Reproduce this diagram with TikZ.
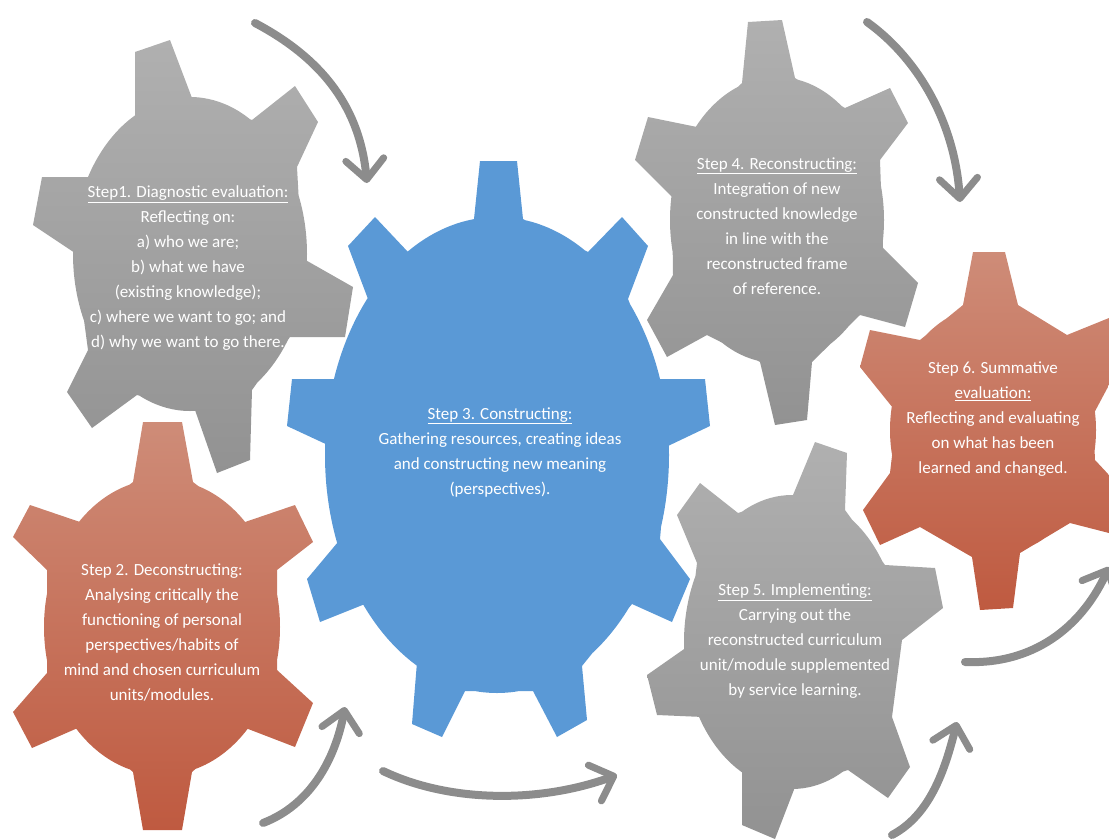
\documentclass[tikz,border=0pt]{standalone}
\usepackage{fontspec}
\setmainfont{Carlito}
\usetikzlibrary{arrows.meta}
\tikzset{
  greygear/.style={top color=gearGreyTop,bottom color=gearGreyBot,draw=none},
  redgear/.style={top color=gearRedTop,bottom color=gearRedBot,draw=none},
  bluegear/.style={fill=gearBlue,draw=none},
  label/.style={text=white,align=center,inner sep=0pt,font=\fontsize{17}{25}\selectfont},
  flow/.style={draw=arrowGrey,line width=8pt,line cap=round,-{Straight Barb[length=20pt,width=38pt,line width=7pt,round]}}
}
\definecolor{gearGreyTop}{HTML}{B0B0B0}
\definecolor{gearGreyBot}{HTML}{929292}
\definecolor{gearRedTop}{HTML}{CE8C78}
\definecolor{gearRedBot}{HTML}{BF5A40}
\definecolor{gearBlue}{HTML}{5A99D6}
\definecolor{arrowGrey}{HTML}{8C8C8C}
\begin{document}
\begin{tikzpicture}[x=1pt,y=-1pt]
\useasboundingbox (0,0) rectangle (1109,839);
% gear 1
\path[greygear] (135,123) -- (135,52) -- (170,40) -- (192,98) -- (252,120) -- (295,86) -- (318,122) -- (297,167) -- (302,258) -- (353,287) -- (345,337) -- (290,337) -- (252,390) -- (250,460) -- (217,473) -- (195,410) -- (137,395) -- (92,428) -- (67,392) -- (88,350) -- (75,253) -- (33,225) -- (42,177) -- (93,177) -- cycle (190,254) ellipse (117 and 157);
% gear 4
\path[greygear] (742,83) -- (748,22) -- (782,20) -- (795,78) -- (845,108) -- (890,88) -- (908,123) -- (880,160) -- (883,248) -- (918,283) -- (905,327) -- (860,315) -- (812,362) -- (807,420) -- (775,425) -- (760,362) -- (707,335) -- (667,357) -- (647,320) -- (673,275) -- (672,197) -- (635,160) -- (648,117) -- (697,127) -- cycle (777,220) ellipse (107 and 143);
% gear 3
\path[bluegear] (474,219) -- (480,161) -- (517,161) -- (523,219) -- (588,252) -- (622,217) -- (648,246) -- (628,299) -- (660,379) -- (705,379) -- (710,426) -- (668,446) -- (660,539) -- (690,579) -- (672,622) -- (632,604) -- (582,666) -- (587,720) -- (557,737) -- (533,691) -- (465,691) -- (442,737) -- (412,724) -- (417,662) -- (365,604) -- (320,622) -- (307,579) -- (338,542) -- (330,446) -- (287,426) -- (292,379) -- (337,379) -- (368,299) -- (348,246) -- (375,217) -- (408,252) -- cycle (497,455) ellipse (172 and 238);
% gear 6
\path[redgear] (963,305) -- (973,252) -- (1005,252) -- (1018,305) -- (1067,335) -- (1109,318) -- (1109,385) -- (1093,415) -- (1095,460) -- (1109,475) -- (1109,533) -- (1070,523) -- (1020,553) -- (1013,608) -- (980,610) -- (972,557) -- (920,527) -- (880,545) -- (863,510) -- (890,473) -- (897,413) -- (860,367) -- (870,330) -- (920,340) -- cycle (993,430) ellipse (103 and 125);
% gear 5
\path[greygear] (793,495) -- (815,442) -- (847,453) -- (845,510) -- (885,565) -- (935,568) -- (943,608) -- (902,640) -- (892,717) -- (910,767) -- (888,798) -- (848,770) -- (795,787) -- (775,839) -- (742,825) -- (742,768) -- (703,717) -- (657,715) -- (647,675) -- (687,647) -- (697,563) -- (677,515) -- (700,483) -- (738,513) -- cycle (792,642) ellipse (108 and 147);
% gear 2
\path[redgear] (143,422) -- (182,422) -- (193,482) -- (245,522) -- (295,505) -- (313,542) -- (277,570) -- (277,670) -- (313,703) -- (295,747) -- (243,727) -- (192,772) -- (182,830) -- (143,830) -- (133,772) -- (80,727) -- (32,748) -- (13,712) -- (47,673) -- (47,570) -- (13,537) -- (30,505) -- (80,522) -- (133,482) -- cycle (162,627) ellipse (118 and 148);
% labels
\node[label] (stepone) at (188,268) {\underline{Step1. Diagnostic evaluation:}\\Reflecting on:\\a) who we are;\\b) what we have\\(existing knowledge);\\c) where we want to go; and\\d) why we want to go there.};
\node[label] (steptwo) at (162,632) {Step 2. Deconstructing:\\Analysing critically the\\functioning of personal\\perspectives/habits of\\mind and chosen curriculum\\units/modules.};
\node[label] (stepthree) at (500,452) {\underline{Step 3. Constructing:}\\Gathering resources, creating ideas\\and constructing new meaning\\(perspectives).};
\node[label] (stepfour) at (777,226) {\underline{Step 4. Reconstructing:}\\Integration of new\\constructed knowledge\\in line with the\\reconstructed frame\\of reference.};
\node[label] (stepfive) at (795,641) {\underline{Step 5. Implementing:}\\Carrying out the\\reconstructed curriculum\\unit/module supplemented\\by service learning.};
\node[label] (stepsix) at (993,419) {Step 6. Summative\\\underline{evaluation:}\\Reflecting and evaluating\\on what has been\\learned and changed.};
% arrows
\coordinate (aas) at (255,23); \coordinate (aae) at (367,183);
\coordinate (abs) at (867,22); \coordinate (abe) at (960,202);
\coordinate (acs) at (263,823); \coordinate (ace) at (345,707);
\coordinate (ads) at (383,771); \coordinate (ade) at (617,775);
\coordinate (aes) at (892,835); \coordinate (aee) at (957,722);
\coordinate (afs) at (965,662); \coordinate (afe) at (1109,567);
\draw[flow] (aas) .. controls (325,60) and (360,110) .. (aae);
\draw[flow] (abs) .. controls (920,60) and (955,125) .. (abe);
\draw[flow] (acs) .. controls (310,805) and (335,760) .. (ace);
\draw[flow] (ads) .. controls (450,803) and (540,803) .. (ade);
\draw[flow] (aes) .. controls (930,815) and (945,770) .. (aee);
\draw[flow] (afs) .. controls (1040,665) and (1085,620) .. (afe);
\end{tikzpicture}
\end{document}
